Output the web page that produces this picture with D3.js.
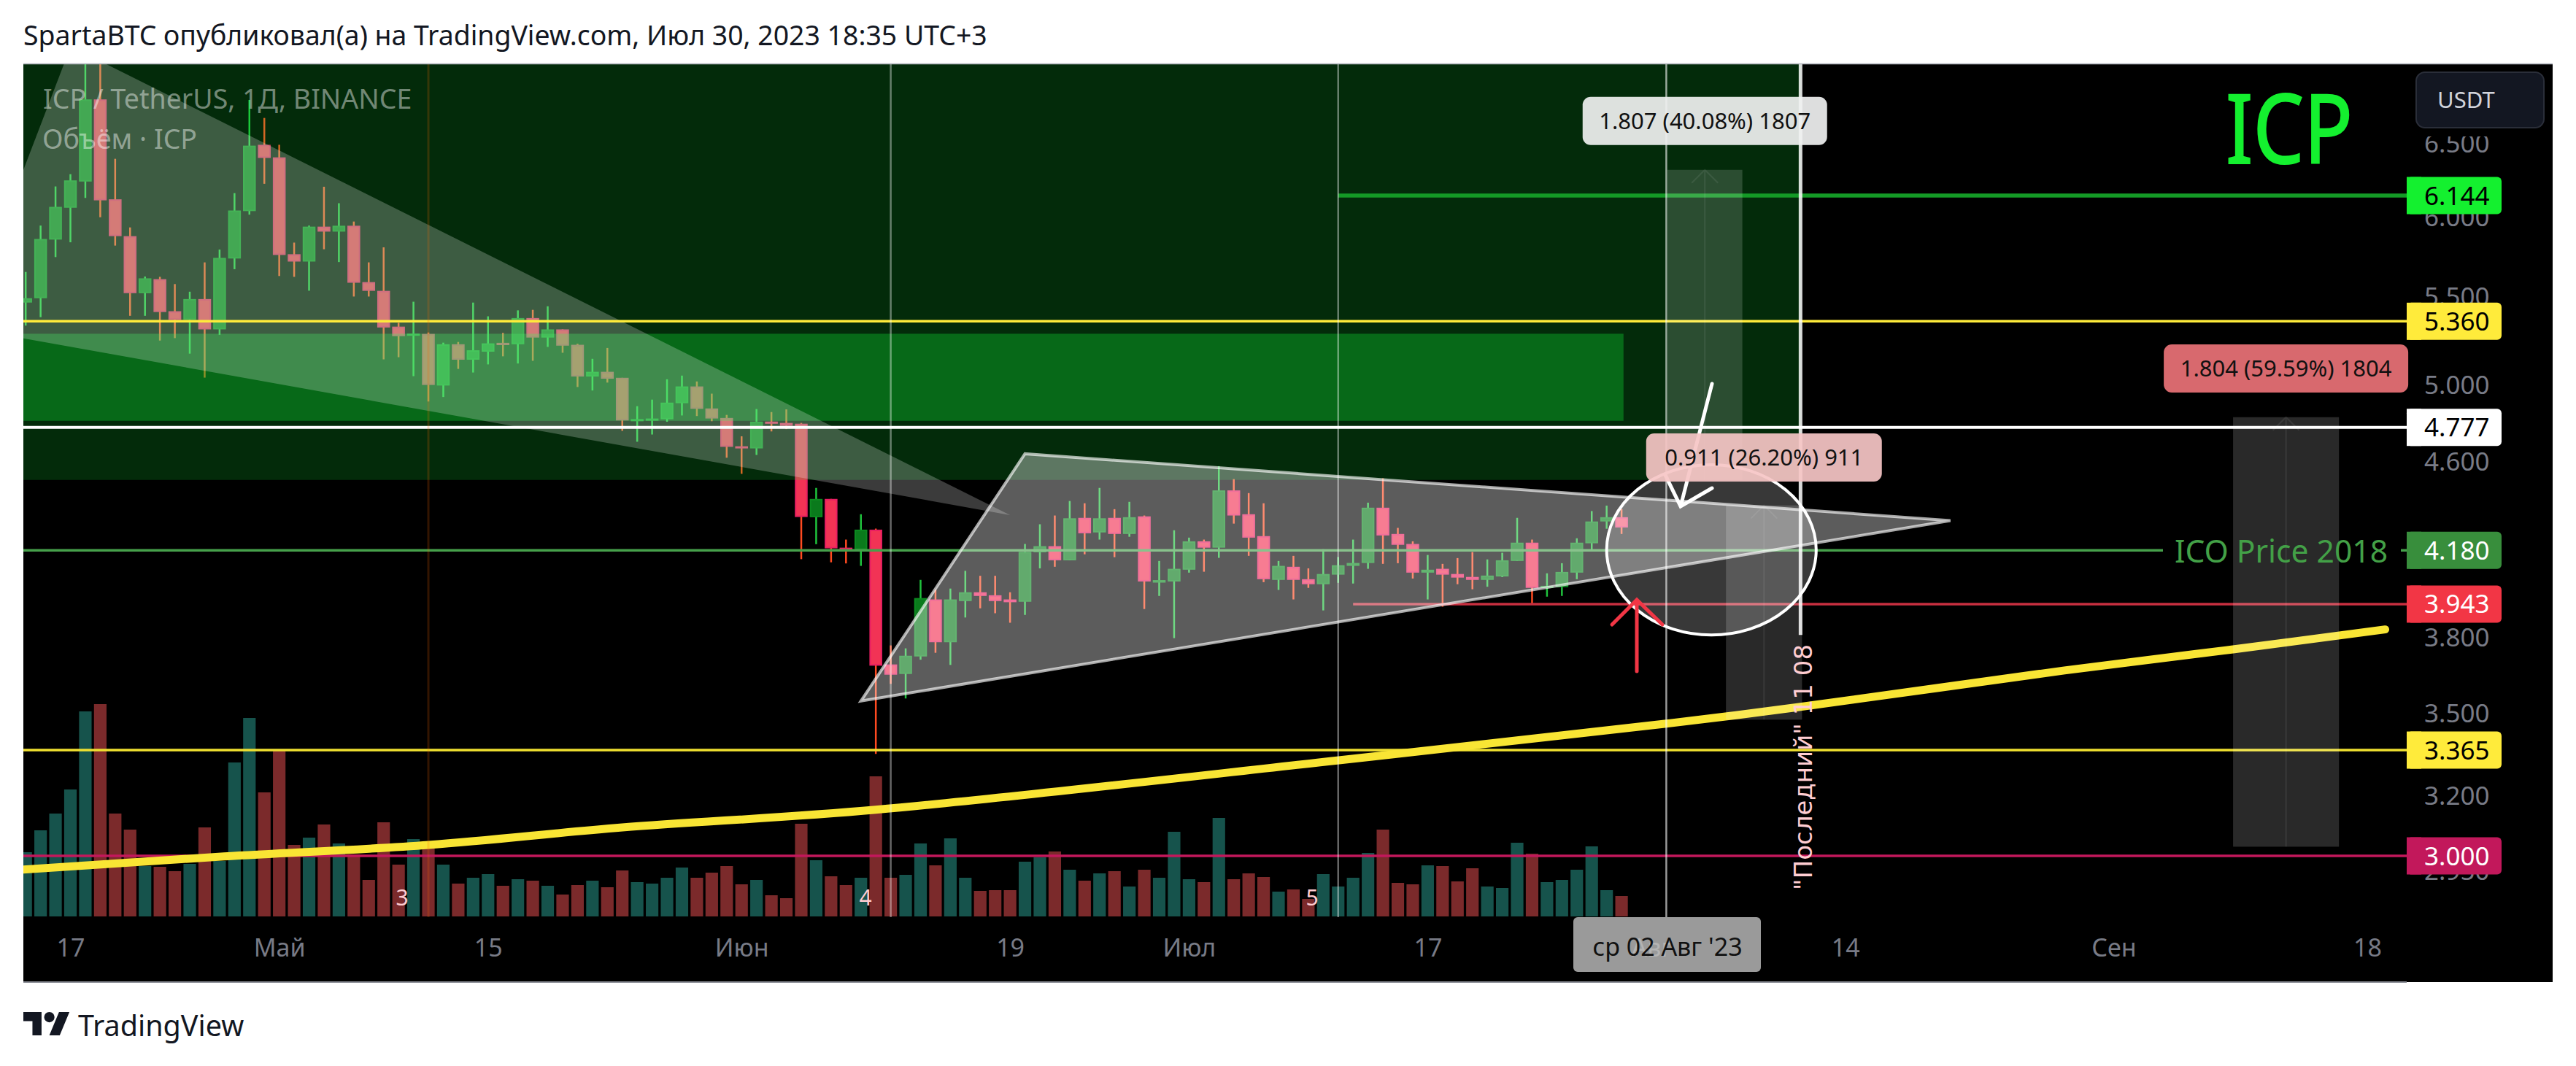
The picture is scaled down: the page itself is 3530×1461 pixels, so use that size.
<!DOCTYPE html>
<html>
<head>
<meta charset="utf-8">
<script src="https://cdn.jsdelivr.net/npm/d3@7"></script>
<style>
  html, body { margin: 0; padding: 0; background: #fff; }
  svg { display: block; }
  text { font-family: "Noto Sans", sans-serif; }
  .domain { display: none; }
</style>
</head>
<body>
<div id="chart"></div>
<script>
// daily candles, first one is 14 Apr 2023
var opens = [5.470,5.496,5.857,6.063,6.238,6.820,6.119,5.879,5.526,5.611,5.419,5.368,5.491,5.313,5.738,6.041,6.492,6.404,5.765,5.719,5.940,5.908,5.946,5.593,5.540,5.329,5.277,5.287,4.999,5.228,5.141,5.186,5.236,5.228,5.379,5.266,5.313,5.225,5.048,5.074,5.041,4.812,4.814,4.819,4.904,4.994,4.876,4.826,4.680,4.669,4.807,4.800,4.796,4.333,4.420,4.192,4.183,4.275,3.693,3.655,3.725,3.963,3.783,3.956,3.994,3.981,3.963,3.953,4.171,4.199,4.135,4.330,4.262,4.330,4.255,4.337,4.036,4.041,4.093,4.221,4.192,4.461,4.347,4.245,4.048,4.106,4.051,4.029,4.071,4.110,4.123,4.378,4.255,4.209,4.080,4.097,4.074,4.061,4.048,4.063,4.132,4.215,4.013,4.016,4.080,4.212,4.313,4.333];
var highs = [5.655,5.947,6.205,6.288,7.300,7.350,6.394,5.935,5.627,5.625,5.581,5.535,5.714,5.794,6.160,6.816,6.684,6.492,5.838,5.947,6.203,6.093,5.973,5.714,5.808,5.351,5.475,5.295,5.237,5.241,5.470,5.389,5.293,5.424,5.427,5.448,5.313,5.231,5.146,5.207,5.041,4.888,4.923,5.033,5.053,5.021,4.955,4.842,4.731,4.873,4.857,4.871,4.800,4.473,4.420,4.229,4.347,4.280,3.770,3.758,4.048,4.005,4.010,4.088,4.066,4.066,3.994,4.209,4.300,4.341,4.410,4.399,4.473,4.371,4.406,4.341,4.132,4.272,4.238,4.229,4.580,4.516,4.448,4.399,4.132,4.155,4.099,4.185,4.150,4.229,4.402,4.520,4.283,4.221,4.159,4.119,4.145,4.172,4.139,4.169,4.330,4.229,4.077,4.122,4.235,4.362,4.388,4.371];
var lows = [5.335,5.384,5.747,5.840,6.128,6.001,5.819,5.392,5.392,5.249,5.263,5.175,5.042,5.282,5.672,6.018,6.223,5.630,5.625,5.541,5.796,5.716,5.506,5.506,5.143,5.155,5.050,4.913,4.937,5.090,5.070,5.115,5.160,5.120,5.135,5.213,5.180,4.991,4.972,5.015,4.759,4.703,4.740,4.806,4.839,4.836,4.809,4.622,4.542,4.636,4.756,4.768,4.140,4.208,4.126,4.121,4.110,3.351,3.616,3.559,3.712,3.740,3.691,3.886,3.925,3.904,3.864,3.897,4.099,4.106,4.135,4.162,4.229,4.149,4.242,3.922,3.978,3.800,4.080,4.084,4.146,4.303,4.155,4.038,4.004,3.963,4.013,3.916,4.035,4.032,4.097,4.119,4.122,4.054,3.963,3.932,4.029,4.007,4.018,4.060,4.132,3.944,3.975,3.978,4.051,4.182,4.279,4.255];
var closes = [5.496,5.861,6.069,6.246,6.820,6.112,5.879,5.526,5.616,5.414,5.368,5.491,5.313,5.742,6.045,6.486,6.400,5.760,5.719,5.940,5.908,5.946,5.589,5.540,5.324,5.274,5.289,5.002,5.228,5.141,5.194,5.233,5.223,5.379,5.266,5.313,5.220,5.048,5.074,5.036,4.813,4.820,4.823,4.907,4.994,4.874,4.823,4.677,4.669,4.807,4.796,4.785,4.334,4.420,4.189,4.183,4.275,3.688,3.652,3.728,3.969,3.783,3.963,3.994,3.978,3.956,3.951,4.173,4.199,4.135,4.328,4.258,4.328,4.255,4.333,4.041,4.047,4.097,4.221,4.192,4.461,4.341,4.238,4.051,4.110,4.048,4.029,4.074,4.113,4.123,4.378,4.248,4.205,4.080,4.093,4.071,4.058,4.048,4.067,4.135,4.215,4.013,4.022,4.083,4.215,4.313,4.333,4.285];
var volumes = [880,1180,1410,1740,2810,2910,1410,1190,690,680,620,720,1220,760,2110,2720,1700,2280,980,1080,1260,1000,850,500,1290,710,1060,940,710,450,530,580,420,510,490,420,300,430,490,400,630,470,450,530,670,530,600,690,440,500,290,250,1270,770,550,430,530,1920,530,570,1000,700,1070,530,350,360,360,750,810,890,640,490,590,620,410,640,530,1160,510,470,1350,510,590,540,340,370,240,580,410,530,870,1190,460,440,700,690,480,660,410,390,1010,860,470,500,640,960,360,280];

var priceTicks = [6.5, 6, 5.5, 5, 4.6, 4.2, 3.8, 3.5, 3.2, 2.95];
var timeTicks = [[3,17],[4,1],[4,15],[5,1],[5,19],[6,1],[6,17],[7,1],[7,14],[8,1],[8,18]];
var timeLabels = ["17","Май","15","Июн","19","Июл","17","Авг","14","Сен","18"];

// price levels: value, colour, first bar (null = from the left edge), text colour on the tag
var levelPrices = [6.144, 5.360, 4.777, 4.180, 3.943, 3.365, 3.000];
var levelColors = ["#14f02f", "#ffeb3b", "#ffffff", "#388e3c", "#f23645", "#ffeb3b", "#c2185b"];
var levelLine = ["#149a26", "#ffeb3b", "#ffffff", "#46a04b", "#c62f3f", "#f0e030", "#c2185b"];
var levelStart = [88, null, null, null, 89, null, null];
var levelText = ["#000", "#000", "#000", "#fff", "#fff", "#000", "#fff"];

// drawings, in bar index and price
var wedgeBars = [3.02, -4.2, 66];
var wedgePrices = [7.224, 5.324, 4.343];
var triangleBars = [67, 56, 129.05];
var trianglePrices = [4.642, 3.549, 4.317];
var trendBars = [-0.16, 13.3, 27.04, 40, 57, 88.05, 110, 118.9, 136.7, 148, 158.2];
var trendPrices = [2.956, 2.998, 3.036, 3.094, 3.154, 3.328, 3.463, 3.526, 3.669, 3.754, 3.836];
var verticalBars = [58, 88, 110];

var rangeBars = [[110.07, 115.1], [114, 119.1], [148, 155.1]];
var rangePrices = [[4.511, 6.318], [3.478, 4.389], [3.03, 4.83]];
var rangeLabels = ["1.807 (40.08%) 1807", "0.911 (26.20%) 911", "1.804 (59.59%) 1804"];
var rangeLabelFill = ["#f0f1f1", "#f6c6c6", "#ea7277"];

var width = 3530, height = 1461;
var paneLeft = 32, paneRight = 3298, paneTop = 88, paneBottom = 1257, outerRight = 3498, outerBottom = 1346;

var svg = d3.select("#chart").append("svg")
    .attr("width", width)
    .attr("height", height);

var x = d3.scaleUtc()
    .domain([Date.UTC(2023, 3, 14), Date.UTC(2023, 8, 18)])
    .range([35.2, 3244]);
var y = d3.scaleLog()
    .domain([3, 6.144])
    .range([1173, 268]);
var volY = d3.scaleLinear()
    .domain([0, 2910])
    .range([1256, 965]);

function barX(i) {
    return x(Date.UTC(2023, 3, 14) + i * 86400000);
}
var step = barX(1) - barX(0);

svg.append("defs").append("clipPath").attr("id", "pane")
    .append("rect")
    .attr("x", paneLeft).attr("y", paneTop)
    .attr("width", paneRight - paneLeft).attr("height", paneBottom - paneTop);

// black chart area
svg.append("rect")
    .attr("x", paneLeft).attr("y", paneTop)
    .attr("width", outerRight - paneLeft).attr("height", outerBottom - paneTop)
    .attr("fill", "#000");

var pane = svg.append("g").attr("clip-path", "url(#pane)");
var bars = d3.range(opens.length);

// volume
pane.selectAll(".vol").data(bars).enter().append("rect")
    .attr("x", function (i) { return barX(i) - step * 0.42; })
    .attr("width", step * 0.84)
    .attr("y", function (i) { return volY(volumes[i]); })
    .attr("height", function (i) { return volY(0) - volY(volumes[i]); })
    .attr("fill", function (i) { return closes[i] >= opens[i] ? "#16534c" : "#7b2a2b"; });

// candles
pane.selectAll(".wick").data(bars).enter().append("line")
    .attr("x1", barX).attr("x2", barX)
    .attr("y1", function (i) { return y(highs[i]); })
    .attr("y2", function (i) { return y(lows[i]); })
    .attr("stroke", function (i) { return closes[i] >= opens[i] ? "#1fc23c" : "#ff4a20"; })
    .attr("stroke-width", 2.5);

pane.selectAll(".body").data(bars).enter().append("rect")
    .attr("x", function (i) { return barX(i) - step * 0.38; })
    .attr("width", step * 0.76)
    .attr("y", function (i) { return y(Math.max(opens[i], closes[i])) + 1; })
    .attr("height", function (i) { return Math.max(1, Math.abs(y(opens[i]) - y(closes[i])) - 2); })
    .attr("fill", function (i) { return closes[i] >= opens[i] ? "#0a7a1c" : "#f23355"; })
    .attr("stroke", function (i) { return closes[i] >= opens[i] ? "#0c8a20" : "#e91e63"; })
    .attr("stroke-width", 2);

// lines under the drawings
function levelLinePath(k) {
    var from = levelStart[k] === null ? paneLeft : barX(levelStart[k]);
    return { x1: from, x2: paneRight, y: y(levelPrices[k]) };
}
// ICO level is broken by its own label
[[paneLeft, 2964], [3290, paneRight]].forEach(function (seg) {
    pane.append("line").attr("x1", seg[0]).attr("x2", seg[1]).attr("y1", y(levelPrices[3])).attr("y2", y(levelPrices[3]))
        .attr("stroke", levelLine[3]).attr("stroke-width", 3.5);
});
var redLevel = levelLinePath(4);
pane.append("line").attr("x1", redLevel.x1).attr("x2", redLevel.x2).attr("y1", redLevel.y).attr("y2", redLevel.y)
    .attr("stroke", levelLine[4]).attr("stroke-width", 3.5);

// green zones
pane.append("rect")
    .attr("x", paneLeft).attr("width", barX(119.05) - paneLeft)
    .attr("y", paneTop).attr("height", y(4.512) - paneTop)
    .attr("fill", "#10e836").attr("fill-opacity", 0.185);
pane.append("rect")
    .attr("x", paneLeft).attr("width", barX(107.13) - paneLeft)
    .attr("y", y(5.288)).attr("height", y(4.811) - y(5.288))
    .attr("fill", "#10e836").attr("fill-opacity", 0.333);

// falling wedge and triangle
var polyLine = d3.line().x(function (d) { return barX(d[0]); }).y(function (d) { return y(d[1]); });
pane.append("path")
    .attr("d", polyLine(d3.zip(wedgeBars, wedgePrices)) + "Z")
    .attr("fill", "#fff").attr("fill-opacity", 0.23);
pane.append("path")
    .attr("d", polyLine(d3.zip(triangleBars, trianglePrices)) + "Z")
    .attr("fill", "#fff").attr("fill-opacity", 0.36)
    .attr("stroke", "#fff").attr("stroke-opacity", 0.65).attr("stroke-width", 4);

// other horizontal levels
[0, 1, 2, 5, 6].forEach(function (k) {
    var l = levelLinePath(k);
    pane.append("line").attr("x1", l.x1).attr("x2", l.x2).attr("y1", l.y).attr("y2", l.y)
        .attr("stroke", levelLine[k])
        .attr("stroke-width", k == 0 ? 5.5 : (k == 2 ? 4 : 3.5));
});

// trend curve
pane.append("path")
    .attr("d", d3.line().curve(d3.curveCatmullRom)
        .x(function (d) { return barX(d[0]); })
        .y(function (d) { return y(d[1]); })(d3.zip(trendBars, trendPrices)))
    .attr("fill", "none").attr("stroke", "#f9e534").attr("stroke-width", 11)
    .attr("stroke-linecap", "round");

// vertical lines
pane.append("line")
    .attr("x1", barX(27)).attr("x2", barX(27)).attr("y1", paneTop).attr("y2", paneBottom)
    .attr("stroke", "#ff6a00").attr("stroke-opacity", 0.2).attr("stroke-width", 3);
verticalBars.forEach(function (b) {
    pane.append("line")
        .attr("x1", barX(b)).attr("x2", barX(b)).attr("y1", paneTop).attr("y2", paneBottom)
        .attr("stroke", "#fff").attr("stroke-opacity", b == 110 ? 0.6 : 0.4).attr("stroke-width", 2.5);
});
pane.append("line")
    .attr("x1", barX(119)).attr("x2", barX(119)).attr("y1", paneTop).attr("y2", y(3.813))
    .attr("stroke", "#fff").attr("stroke-opacity", 0.85).attr("stroke-width", 5);

// measure boxes
rangeBars.forEach(function (b, k) {
    var top = y(rangePrices[k][1]), bottom = y(rangePrices[k][0]);
    pane.append("rect")
        .attr("x", barX(b[0])).attr("width", barX(b[1]) - barX(b[0]))
        .attr("y", top).attr("height", bottom - top)
        .attr("fill", "#fff").attr("fill-opacity", 0.16);
    var mid = (barX(b[0]) + barX(b[1])) / 2;
    pane.append("path")
        .attr("d", "M" + mid + "," + bottom + "V" + top + "m-18,18l18,-18l18,18")
        .attr("fill", "none").attr("stroke", "#fff").attr("stroke-opacity", 0.08).attr("stroke-width", 2);
});

// circle around the apex
pane.append("ellipse")
    .attr("cx", (barX(106) + barX(120.05)) / 2)
    .attr("cy", (y(4.587) + y(3.813)) / 2)
    .attr("rx", (barX(120.05) - barX(106)) / 2)
    .attr("ry", (y(3.813) - y(4.587)) / 2)
    .attr("fill", "#fff").attr("fill-opacity", 0.22)
    .attr("stroke", "#fff").attr("stroke-width", 4);

// hand drawn arrows, the box labels sit over them
svg.append("path")
    .attr("d", "M2346,526 L2303,694 M2346,669 L2303,694 L2282,651")
    .attr("fill", "none").attr("stroke", "#fff").attr("stroke-width", 5).attr("stroke-linecap", "round");
svg.append("path")
    .attr("d", "M2243,920 V822 M2209,856 L2243,822 L2278,856")
    .attr("fill", "none").attr("stroke", "#f23645").attr("stroke-width", 5).attr("stroke-linecap", "round");

// box labels
rangeBars.forEach(function (b, k) {
    var mid = (barX(b[0]) + barX(b[1])) / 2;
    var w = k == 1 ? 323 : 335;
    var cy = y(rangePrices[k][1]) - 67;
    if (k == 1) cy = 627;
    if (k == 2) cy = 505;
    svg.append("rect")
        .attr("x", mid - w / 2).attr("y", cy - 33).attr("width", w).attr("height", 66).attr("rx", 11)
        .attr("fill", rangeLabelFill[k]).attr("fill-opacity", 0.92);
    svg.append("text")
        .attr("x", mid).attr("y", cy + 11)
        .attr("text-anchor", "middle").attr("font-size", 31).attr("fill", "#111")
        .text(rangeLabels[k]);
});

// texts on the chart
svg.append("text").attr("x", 59).attr("y", 149).attr("font-size", 37.5)
    .attr("fill", "#fff").attr("fill-opacity", 0.45).text("ICP / TetherUS, 1Д, BINANCE");
svg.append("text").attr("x", 58).attr("y", 204).attr("font-size", 37.5)
    .attr("fill", "#fff").attr("fill-opacity", 0.45).text("Объём · ICP");
svg.append("text").attr("x", 3050).attr("y", 224).attr("font-size", 132)
    .attr("textLength", 174).attr("lengthAdjust", "spacingAndGlyphs")
    .attr("fill", "#14f02f").attr("stroke", "#14f02f").attr("stroke-width", 2).text("ICP");
svg.append("text").attr("x", 2980).attr("y", 771).attr("font-size", 44)
    .attr("textLength", 292).attr("lengthAdjust", "spacingAndGlyphs")
    .attr("fill", "#43a047").text("ICO Price 2018");
svg.append("text")
    .attr("transform", "translate(2483,1220) rotate(-90)")
    .style("font-family", "DejaVu Sans")
    .attr("font-size", 34).attr("fill", "#ffcdd2")
    .text("\"Последний\" 11 08");
[[551, "3"], [1186, "4"], [1798, "5"]].forEach(function (m) {
    svg.append("text").attr("x", m[0]).attr("y", 1241).attr("font-size", 30)
        .attr("text-anchor", "middle").attr("fill", "#ffcdd2").text(m[1]);
});

// price axis
var priceAxis = svg.append("g")
    .attr("transform", "translate(3322,0)")
    .call(d3.axisRight(y).tickValues(priceTicks).tickFormat(d3.format(".3f")).tickSize(0).tickPadding(0));
priceAxis.selectAll("text").attr("font-size", 35).attr("fill", "#787b86")
    .style("font-family", "'Noto Sans', sans-serif");
svg.append("rect").attr("x", paneRight).attr("y", paneTop).attr("width", outerRight - paneRight).attr("height", 99).attr("fill", "#000");
svg.append("rect").attr("x", 3311).attr("y", 99).attr("width", 175).attr("height", 76).attr("rx", 12)
    .attr("fill", "#131722").attr("stroke", "#2a2e39").attr("stroke-width", 2);
svg.append("text").attr("x", 3340).attr("y", 148).attr("font-size", 31).attr("fill", "#d1d4dc").text("USDT");

// price tags
levelPrices.forEach(function (p, k) {
    var cy = y(p);
    svg.append("rect").attr("x", paneRight).attr("y", cy - 25.5).attr("width", 130).attr("height", 51).attr("rx", 6)
        .attr("fill", levelColors[k]);
    svg.append("rect").attr("x", paneRight).attr("y", cy - 25.5).attr("width", 20).attr("height", 51)
        .attr("fill", levelColors[k]);
    svg.append("text").attr("x", 3322).attr("y", cy + 12.5).attr("font-size", 35)
        .attr("fill", levelText[k]).text(d3.format(".3f")(p));
});

// time axis, cursor tag goes under the labels
svg.append("rect").attr("x", 2156).attr("y", paneBottom).attr("width", 257).attr("height", 75).attr("rx", 6)
    .attr("fill", "#9a9a9a");
var timeAxis = svg.append("g")
    .attr("transform", "translate(0," + paneBottom + ")")
    .call(d3.axisBottom(x)
        .tickValues(timeTicks.map(function (d) { return new Date(Date.UTC(2023, d[0], d[1])); }))
        .tickFormat(function (d, i) { return timeLabels[i]; })
        .tickSize(0).tickPadding(0));
timeAxis.selectAll("text")
    .attr("font-size", 34).attr("dy", 54)
    .attr("fill", function (d, i) { return timeLabels[i] == "Авг" ? "#b4b4b4" : "#787b86"; })
    .style("font-family", "'Noto Sans', sans-serif");
svg.append("text").attr("x", 2285).attr("y", 1310).attr("text-anchor", "middle")
    .attr("font-size", 34).attr("fill", "#111").text("ср 02 Авг '23");

// borders
svg.append("line").attr("x1", paneLeft).attr("x2", outerRight).attr("y1", paneTop - 0.5).attr("y2", paneTop - 0.5)
    .attr("stroke", "#b2b5be").attr("stroke-width", 1.5);
svg.append("line").attr("x1", paneLeft).attr("x2", paneRight).attr("y1", outerBottom).attr("y2", outerBottom)
    .attr("stroke", "#8a8d96").attr("stroke-width", 2);

// header and footer
svg.append("text").attr("x", 32).attr("y", 62).attr("font-size", 37.4).attr("fill", "#131722")
    .text("SpartaBTC опубликовал(а) на TradingView.com, Июл 30, 2023 18:35 UTC+3");
svg.append("path")
    .attr("transform", "translate(32,1374.5) scale(1.78)")
    .attr("d", "M14 25H7V14H0V7h14v18zM28 25h-8l7.47-18h8L28 25zM24 11a4 4 0 1 1-8 0 4 4 0 0 1 8 0z")
    .attr("fill", "#131722");
svg.append("text").attr("x", 107).attr("y", 1420).attr("font-size", 39.5).attr("fill", "#131722").text("TradingView");
</script>
</body>
</html>
